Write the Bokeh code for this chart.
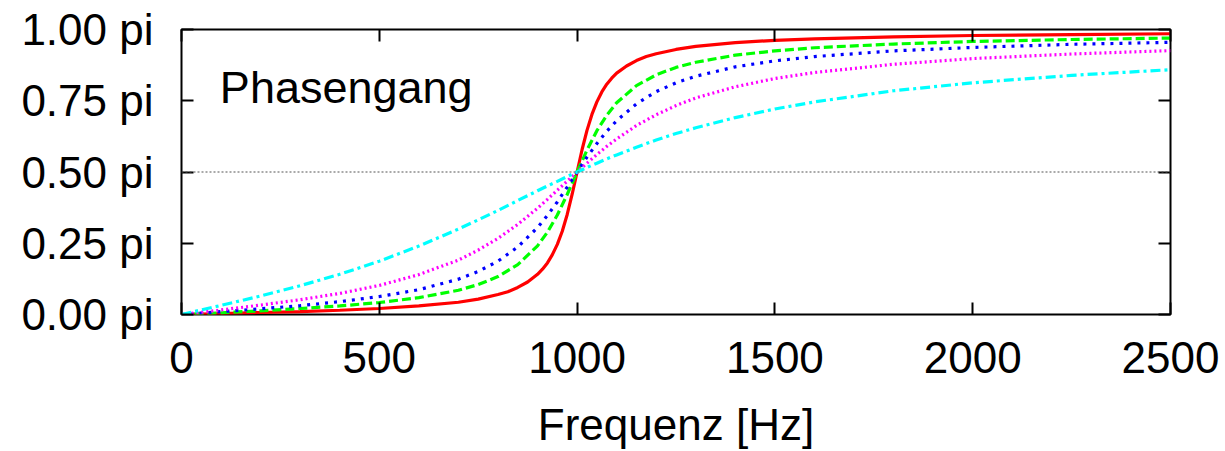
from bokeh.plotting import figure
from bokeh.models import Range1d, LinearAxis, FixedTicker, Span, Label
from bokeh.embed import file_html
from bokeh.resources import INLINE

# Frequency samples [Hz]
freq = [0, 100, 200, 300, 400, 500, 600, 700, 750, 800, 850, 900, 925, 950, 975,
        1000, 1025, 1050, 1075, 1100, 1150, 1200, 1250, 1300, 1400, 1500, 1600, 1800,
        2000, 2250, 2500]

# denser sampling for the steep red curve
freq_red = [0, 100, 200, 300, 400, 500, 600, 700, 750, 800, 825, 850, 875, 900, 912.5,
            925, 937.5, 950, 962.5, 975, 987.5, 1000, 1012.5, 1025, 1037.5, 1050,
            1062.5, 1075, 1087.5, 1100, 1125, 1150, 1175, 1200, 1250, 1300, 1400,
            1500, 1600, 1800, 2000, 2250, 2500]

# Phase in units of pi
phase_red = [0, 0.003, 0.007, 0.010, 0.015, 0.021, 0.030, 0.043, 0.054, 0.070, 0.080,
             0.095, 0.114, 0.141, 0.159, 0.181, 0.210, 0.246, 0.292, 0.351, 0.422,
             0.500, 0.578, 0.646, 0.702, 0.746, 0.781, 0.808, 0.829, 0.847, 0.872,
             0.891, 0.905, 0.915, 0.930, 0.941, 0.954, 0.962, 0.967, 0.974, 0.979,
             0.982, 0.985]
phase_green = [0, 0.006, 0.013, 0.021, 0.030, 0.042, 0.059, 0.085, 0.105, 0.133, 0.175,
               0.241, 0.289, 0.349, 0.421, 0.500, 0.577, 0.645, 0.699, 0.743, 0.803,
               0.841, 0.867, 0.885, 0.910, 0.925, 0.936, 0.949, 0.958, 0.965, 0.970]
phase_blue = [0, 0.010, 0.020, 0.031, 0.045, 0.063, 0.087, 0.124, 0.151, 0.187, 0.237,
              0.305, 0.348, 0.395, 0.447, 0.500, 0.552, 0.600, 0.643, 0.680, 0.739,
              0.782, 0.813, 0.836, 0.869, 0.890, 0.905, 0.925, 0.937, 0.948, 0.955]
phase_magenta = [0, 0.016, 0.033, 0.052, 0.074, 0.102, 0.140, 0.191, 0.226, 0.267, 0.316,
                 0.373, 0.404, 0.436, 0.468, 0.500, 0.531, 0.561, 0.590, 0.616, 0.663,
                 0.701, 0.733, 0.760, 0.799, 0.828, 0.849, 0.878, 0.898, 0.914, 0.926]
phase_cyan = [0, 0.032, 0.065, 0.101, 0.141, 0.187, 0.240, 0.300, 0.332, 0.365, 0.400,
              0.434, 0.451, 0.467, 0.484, 0.500, 0.516, 0.531, 0.546, 0.560, 0.587,
              0.612, 0.635, 0.655, 0.691, 0.721, 0.746, 0.785, 0.813, 0.839, 0.859]

x_ticks = [0, 500, 1000, 1500, 2000, 2500]
y_ticks = [0.0, 0.25, 0.5, 0.75, 1.0]
y_tick_labels = ["0.00 pi", "0.25 pi", "0.50 pi", "0.75 pi", "1.00 pi"]

title_text = "Phasengang"
xlabel_text = "Frequenz [Hz]"

FONT = "Liberation Sans"
FS = "44px"

p = figure(width=1225, height=451, x_range=Range1d(0, 2500), y_range=Range1d(0, 1),
           output_backend="svg", toolbar_location=None,
           min_border_left=181, min_border_right=55, min_border_top=29,
           min_border_bottom=136)
p.grid.grid_line_color = None
p.outline_line_color = "black"
p.outline_line_width = 2
p.background_fill_color = "white"
p.border_fill_color = "white"

xa = p.xaxis[0]
xa.ticker = FixedTicker(ticks=x_ticks)
xa.major_label_text_font = FONT
xa.major_label_text_font_size = FS
xa.major_label_text_color = "black"
xa.major_label_standoff = 27
xa.major_tick_in = 12
xa.major_tick_out = 0
xa.major_tick_line_width = 2
xa.major_tick_line_color = "black"
xa.minor_tick_line_color = None
xa.axis_line_color = None
xa.axis_label = xlabel_text
xa.axis_label_text_font = FONT
xa.axis_label_text_font_size = FS
xa.axis_label_text_font_style = "normal"
xa.axis_label_text_color = "black"
xa.axis_label_standoff = 24

ya = p.yaxis[0]
ya.ticker = FixedTicker(ticks=y_ticks)
ya.major_label_overrides = {t: l for t, l in zip(y_ticks, y_tick_labels)}
ya.major_label_text_font = FONT
ya.major_label_text_font_size = FS
ya.major_label_text_color = "black"
ya.major_label_standoff = 28
ya.major_tick_in = 12
ya.major_tick_out = 0
ya.major_tick_line_width = 2
ya.major_tick_line_color = "black"
ya.minor_tick_line_color = None
ya.axis_line_color = None

# mirrored ticks on top and right
top = LinearAxis(ticker=FixedTicker(ticks=x_ticks),
                 major_label_overrides={t: "" for t in x_ticks},
                 major_label_text_font_size="1px", major_label_standoff=0,
                 major_tick_in=12, major_tick_out=0, major_tick_line_width=2,
                 minor_tick_line_color=None, axis_line_color=None)
right = LinearAxis(ticker=FixedTicker(ticks=y_ticks),
                   major_label_overrides={t: "" for t in y_ticks},
                   major_label_text_font_size="1px", major_label_standoff=0,
                   major_tick_in=12, major_tick_out=0, major_tick_line_width=2,
                   minor_tick_line_color=None, axis_line_color=None)
p.add_layout(top, "above")
p.add_layout(right, "right")

p.add_layout(Span(location=0.5, dimension="width", line_color="#555555",
                  line_width=1.2, line_dash="2 2"))

LW = 3.2
p.line(freq_red, phase_red, line_color="#ff0000", line_width=LW)
p.line(freq, phase_green, line_color="#00ff00", line_width=LW, line_dash="9 4")
p.line(freq, phase_blue, line_color="#0000ff", line_width=LW, line_dash="3 6")
p.line(freq, phase_magenta, line_color="#ff00ff", line_width=LW, line_dash="2 3")
p.line(freq, phase_cyan, line_color="#00ffff", line_width=LW, line_dash="10 4 3 4")

p.add_layout(Label(x=97, y=0.795, text=title_text, text_font=FONT,
                   text_font_size="45px", text_baseline="alphabetic",
                   text_align="left", text_color="black"))

open("out.html", "w").write(file_html(p, INLINE))
